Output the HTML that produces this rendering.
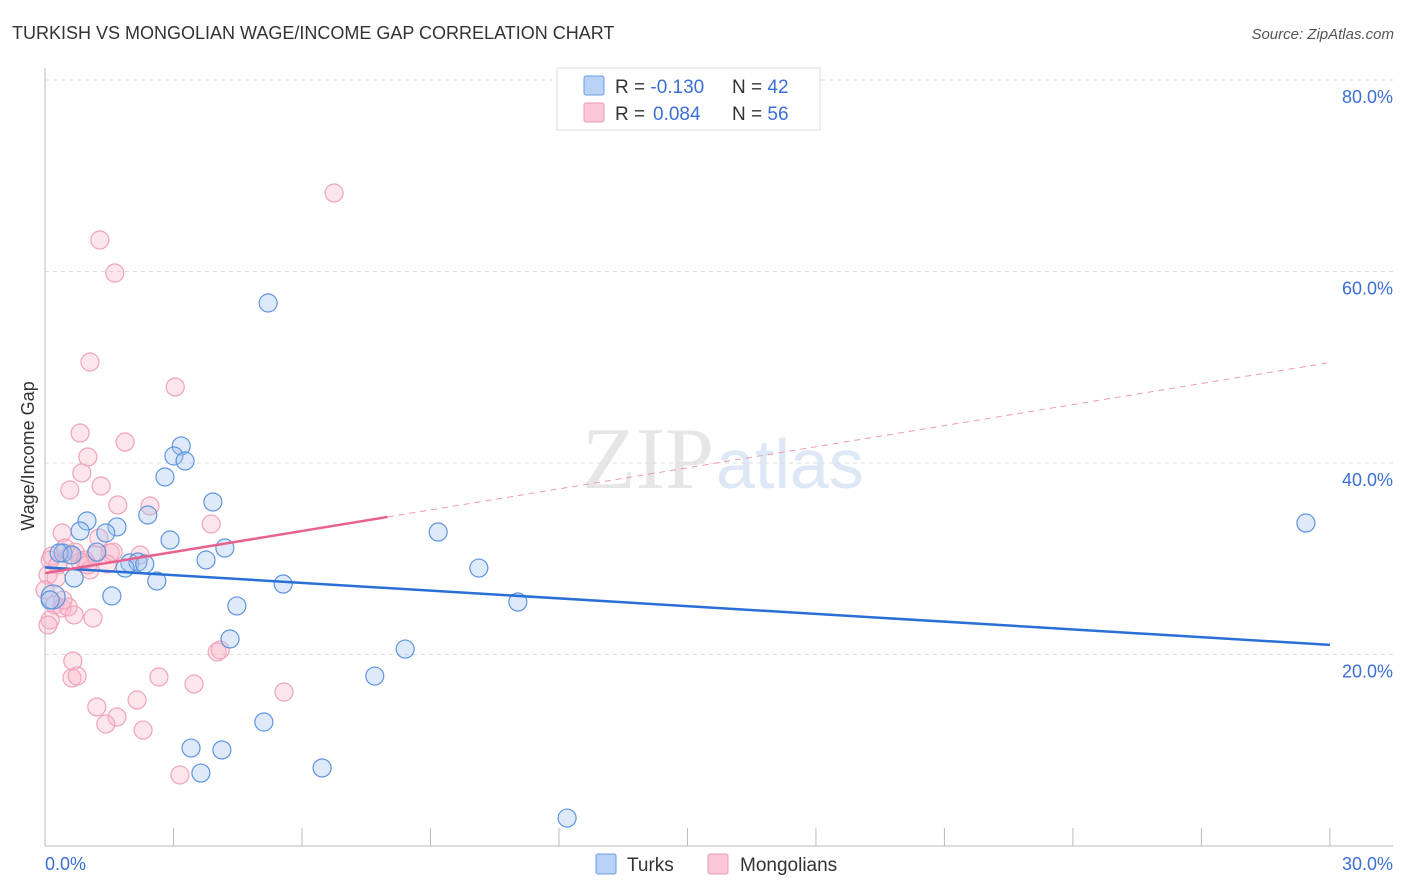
<!DOCTYPE html>
<html><head><meta charset="utf-8"><style>
body{margin:0;background:#fff;font-family:"Liberation Sans",sans-serif}
</style></head><body>
<svg id="c" width="1406" height="892" style="display:block">
<text x="12" y="39" font-size="18" fill="#333">TURKISH VS MONGOLIAN WAGE/INCOME GAP CORRELATION CHART</text>
<text x="1394" y="39" font-size="15" fill="#555" text-anchor="end" font-style="italic">Source: ZipAtlas.com</text>
<text x="714" y="488" font-size="88" fill="#e6e6e6" text-anchor="end" font-family="Liberation Serif,serif">ZIP</text>
<text x="716" y="488" font-size="70" fill="#dde7f5">atlas</text>
<text transform="translate(34,456) rotate(-90)" font-size="18" fill="#333" text-anchor="middle">Wage/Income Gap</text>
<g id="grid"></g><g id="marks"></g>
<g>
<rect x="557" y="68" width="263" height="62" fill="#fff" stroke="#ddd"/>
<rect x="584" y="76" width="20" height="19" fill="#b8d3f5" stroke="#6b9de0" rx="2"/>
<rect x="584" y="103" width="20" height="19" fill="#fbc7d6" stroke="#ee9ab4" rx="2"/>
<text x="615" y="93" font-size="19" fill="#333">R = <tspan fill="#3b6fd6">-0.130</tspan><tspan x="732">N = </tspan><tspan fill="#3b6fd6">42</tspan></text>
<text x="615" y="120" font-size="19" fill="#333">R = <tspan fill="#3b6fd6" x="653">0.084</tspan><tspan x="732">N = </tspan><tspan fill="#3b6fd6">56</tspan></text>
</g>
<g>
<rect x="596" y="854" width="20" height="20" fill="#b8d3f5" stroke="#6b9de0" rx="2"/>
<text x="627" y="871" font-size="19" fill="#333">Turks</text>
<rect x="708" y="854" width="20" height="20" fill="#fbc7d6" stroke="#ee9ab4" rx="2"/>
<text x="740" y="871" font-size="19" fill="#333">Mongolians</text>
</g>
<text x="45" y="870" font-size="18" fill="#3b6fd6">0.0%</text>
<text x="1393" y="870" font-size="18" fill="#3b6fd6" text-anchor="end">30.0%</text>
</svg>
<script>
const yTicks=[20,40,60,80];
const turksPx=[[268,303],[181,446],[174,456],[185,461],[165,477],[213,502],[148,515],[87,521],[80,531],[117,527],[106,533],[170,540],[225,548],[438,532],[63,553],[97,552],[130,563],[138,562],[145,564],[125,568],[206,560],[74,578],[157,581],[283,584],[479,568],[112,596],[53,597],[237,606],[518,602],[230,639],[405,649],[375,676],[264,722],[191,748],[222,750],[201,773],[322,768],[567,818],[1306,523],[50,600],[59,553],[72,555]];
const mongPx=[[334,193],[100,240],[115,273],[90,362],[175,387],[80,433],[125,442],[88,457],[82,473],[70,490],[101,486],[118,505],[150,506],[211,524],[62,533],[99,538],[52,556],[65,548],[75,552],[85,560],[95,555],[110,553],[113,552],[90,570],[48,575],[50,560],[58,565],[80,562],[70,555],[55,605],[62,608],[68,607],[74,615],[93,618],[50,620],[48,625],[73,661],[72,678],[77,676],[217,652],[220,650],[159,677],[194,684],[284,692],[97,707],[137,700],[117,717],[106,724],[143,730],[180,775],[140,555],[56,578],[45,590],[107,564],[88,565],[63,600]];
const turksX=turksPx.map(p=>+((p[0]-45)/42.83).toFixed(2));
const turksY=turksPx.map(p=>+((846-p[1])/9.575).toFixed(2));
const mongX=mongPx.map(p=>+((p[0]-45)/42.83).toFixed(2));
const mongY=mongPx.map(p=>+((846-p[1])/9.575).toFixed(2));
const turksTrend=[29.1,21.0];
const mongTrend=[28.5,50.5];
const X=v=>45+v*42.83, Y=v=>846-v*9.575;
const NS="http://www.w3.org/2000/svg";
function mk(t,a,p){const e=document.createElementNS(NS,t);for(const k in a)e.setAttribute(k,a[k]);p.appendChild(e);return e;}
const g=document.getElementById('grid'), m=document.getElementById('marks');
yTicks.forEach(t=>{
 const l=mk('line',{x1:45,x2:1393,y1:Y(t),y2:Y(t),stroke:'#ddd','stroke-dasharray':'4,4'},g);
 
 
 const tx=mk('text',{x:1393,y:Y(t)+23,'font-size':18,fill:'#3b6fd6','text-anchor':'end'},g);
 tx.textContent=t.toFixed(1)+'%';
 
 
});
mk('line',{x1:45,x2:45,y1:68,y2:846,stroke:'#bbb'},g);
mk('line',{x1:45,x2:1393,y1:846,y2:846,stroke:'#bbb'},g);
for(let i=1;i<=10;i++){const t=mk('line',{x1:X(i*3),x2:X(i*3),y1:828,y2:846,stroke:'#bbb'},g);
 
 }
mongX.forEach((x,i)=>{const c=mk('circle',{cx:X(x),cy:Y(mongY[i]),r:9,fill:'rgba(248,180,200,0.35)',stroke:'#f0a3bb','stroke-width':1.2},m);
 
 });
turksX.forEach((x,i)=>{const c=mk('circle',{cx:X(x),cy:Y(turksY[i]),r:(i==26?12:9),fill:'rgba(160,196,240,0.35)',stroke:'#5f95dd','stroke-width':1.2},m);
 
 });
let l=mk('line',{x1:X(0),y1:Y(turksTrend[0]),x2:X(30),y2:Y(turksTrend[1]),stroke:'#2a6fd6','stroke-width':2.5},m);


const my=x=>mongTrend[0]+(mongTrend[1]-mongTrend[0])*x/30;
l=mk('line',{x1:X(0),y1:Y(my(0)),x2:X(8),y2:Y(my(8)),stroke:'#e8628e','stroke-width':2.5},m);


l=mk('line',{x1:X(8),y1:Y(my(8)),x2:X(30),y2:Y(my(30)),stroke:'#ee9ab4','stroke-width':1,'stroke-dasharray':'6,5'},m);


</script>
</body></html>
